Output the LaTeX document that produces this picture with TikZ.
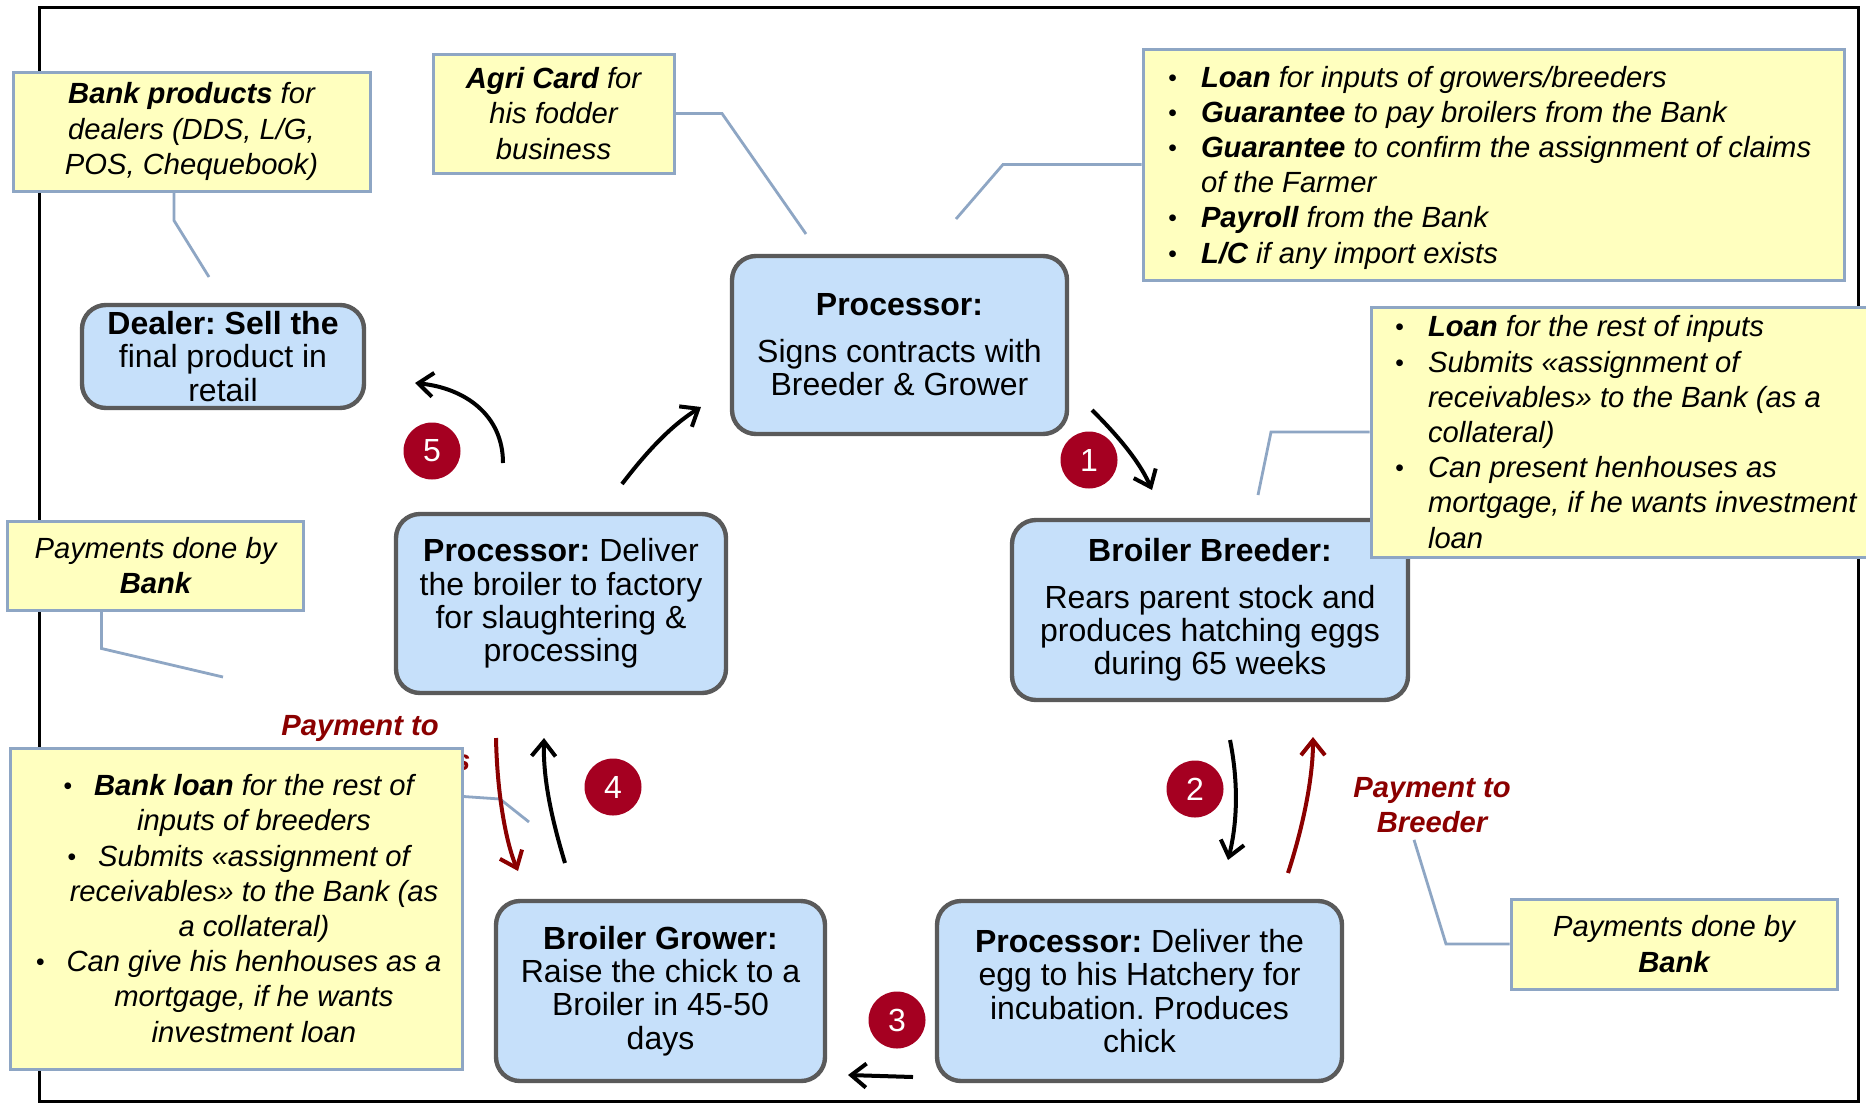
\documentclass[tikz,border=0pt]{standalone}
\usepackage{fontspec}
\setmainfont{Liberation Sans}
\usetikzlibrary{arrows.meta}
\frenchspacing
\definecolor{bluefill}{HTML}{C6E0FA}
\definecolor{blueedge}{HTML}{5A5A5A}
\definecolor{yelfill}{HTML}{FFFFBF}
\definecolor{yeledge}{HTML}{8EA6C4}
\definecolor{circred}{HTML}{A50021}
\definecolor{payred}{HTML}{8B0000}
\newcommand\bigfont{\fontsize{16}{16.7}\selectfont}
\newcommand\smallfont{\fontsize{14.6}{17.6}\selectfont}
\newcommand\bi[1]{\textbf{\textit{#1}}}
\newcommand\bulglyph{\raisebox{0.5pt}{\scalebox{0.85}{\textbullet}}}
\newcommand\bitem[1]{\par\hangindent=16.5pt\hangafter=1\noindent\makebox[16.5pt][l]{\bulglyph}#1}
\newcommand\cbul{\leavevmode\llap{\bulglyph\hspace{11pt}}}
\tikzset{
  bluebox/.style={draw=blueedge, line width=2.2pt, fill=bluefill, rounded corners=12pt, inner sep=0pt, align=center, font=\bigfont},
  ybox/.style={draw=yeledge, line width=1.5pt, fill=yelfill, inner sep=0pt, font=\smallfont\itshape},
  call/.style={draw=yeledge, line width=1.4pt},
  flow/.style={line width=2pt, -{Straight Barb[length=7.5pt,width=12pt,line width=2pt]}},
  payflow/.style={flow, draw=payred},
  num/.style={circle, fill=circred, text=white, minimum size=28.5pt, inner sep=0pt, font=\fontsize{16}{16}\selectfont},
  paylbl/.style={text=payred, font=\smallfont\bfseries\itshape, align=center},
}
\begin{document}
\begin{tikzpicture}[x=0.5pt,y=-0.5pt]
\fill[white] (0,0) rectangle (1866,1103);
\useasboundingbox (0,0) rectangle (1866,1103);
\draw[line width=1.5pt] (39,7) rectangle (1858,1101);

% red label partly hidden behind box F
\node[paylbl] (PG) at (360,743) {Payment to\\Broiler Growers};

% blue process boxes
\node[bluebox, minimum width=167.5pt, minimum height=89pt] (P1) at (899.5,345)
  {\textbf{Processor:}\\[6.5pt]Signs contracts with\\Breeder \& Grower};
\node[bluebox, minimum width=141pt, minimum height=51.5pt] (DL) at (223,356.5)
  {\textbf{Dealer: Sell the}\\final product in\\retail};
\node[bluebox, minimum width=198pt, minimum height=90pt] (BB) at (1210,610)
  {\textbf{Broiler Breeder:}\\[6.5pt]Rears parent stock and\\produces hatching eggs\\during 65 weeks};
\node[bluebox, minimum width=165pt, minimum height=89.5pt] (P2) at (561,603.5)
  {\textbf{Processor:} Deliver\\the broiler to factory\\for slaughtering \&\\processing};
\node[bluebox, minimum width=164.5pt, minimum height=90pt] (BG) at (660.5,991)
  {\textbf{Broiler Grower:}\\Raise the chick to a\\Broiler in 45-50\\days};
\node[bluebox, minimum width=202.5pt, minimum height=90pt] (P3) at (1139.5,991)
  {\textbf{Processor:} Deliver the\\egg to his Hatchery for\\incubation. Produces\\chick};

% yellow bank boxes
\node[ybox, align=center, minimum width=178.5pt, minimum height=59.5pt] (A) at (191.5,131.5)
  {\bi{Bank products} for\\dealers (DDS, L/G,\\POS, Chequebook)};
\node[ybox, align=center, minimum width=120.5pt, minimum height=59.5pt] (B) at (553.5,113.5)
  {\bi{Agri Card} for\\his fodder\\business};
\node[ybox, minimum width=350.5pt, minimum height=115.5pt] (C) at (1493.5,164.5)
  {\hspace*{12.5pt}\parbox{338pt}{\smallfont\itshape
  \bitem{\bi{Loan} for inputs of growers/breeders}
  \bitem{\bi{Guarantee} to pay broilers from the Bank}
  \bitem{\bi{Guarantee} to confirm the assignment of claims\newline of the Farmer}
  \bitem{\bi{Payroll} from the Bank}
  \bitem{\bi{L/C} if any import exists}\vspace*{-3pt}}};
\node[ybox, minimum width=252pt, minimum height=125pt] (D) at (1623,432)
  {\hspace*{12pt}\parbox{240pt}{\smallfont\itshape
  \bitem{\bi{Loan} for the rest of inputs}
  \bitem{Submits «assignment of\newline receivables» to the Bank (as a\newline collateral)}
  \bitem{Can present henhouses as\newline mortgage, if he wants investment\newline loan}}};
\node[ybox, align=center, minimum width=148pt, minimum height=44.5pt] (E) at (155.5,565.5)
  {Payments done by\\\bi{Bank}};
\node[ybox, minimum width=226pt, minimum height=160.5pt] (F) at (236,908.5)
  {\hspace*{18pt}\parbox{208pt}{\smallfont\itshape\centering
  \cbul\bi{Bank loan} for the rest of\\
  inputs of breeders\\
  \cbul Submits «assignment of\\
  receivables» to the Bank (as\\
  a collateral)\\
  \cbul Can give his henhouses as a\\
  mortgage, if he wants\\
  investment loan}};
\node[ybox, align=center, minimum width=163pt, minimum height=45pt] (G) at (1674,944)
  {Payments done by\\\bi{Bank}};

\node[paylbl] (PB) at (1432,805) {Payment to\\Breeder};

% callout lines
\coordinate (cA) at (209,277);
\coordinate (cB) at (806,234);
\coordinate (cC) at (956,219);
\coordinate (cD) at (1258,495);
\coordinate (cE) at (223,677);
\coordinate (cF) at (529,822);
\draw[call] ([xshift=-8.75pt]A.south) -- ++(0,28) -- (cA);
\draw[call] (B.east) -- (722,113.5) -- (cB);
\draw[call] (C.west) -- (1003,164.5) -- (cC);
\draw[call] (D.west) -- (1271,432) -- (cD);
\draw[call] ([xshift=-27pt]E.south) -- ++(0,37) -- (cE);
\draw[call] ([yshift=-25pt]F.north east) -- (500,799) -- (cF);
\draw[call] ([xshift=-9pt]PB.south) -- (1446,944) -- (G.west);

% flow arrows
\coordinate (f1s) at (1092,410); \coordinate (f1e) at (1152,490);
\coordinate (f2s) at (1230,740); \coordinate (f2e) at (1228,860);
\coordinate (r2s) at (1288,873); \coordinate (r2e) at (1313,737);
\coordinate (f3s) at (913,1077); \coordinate (f3e) at (848,1075);
\coordinate (f4s) at (565,863);  \coordinate (f4e) at (544,738);
\coordinate (r4s) at (496,738);  \coordinate (r4e) at (518,871);
\coordinate (f5s) at (503,463);  \coordinate (f5e) at (415,383);
\coordinate (f6s) at (622,484);  \coordinate (f6e) at (701,407);
\draw[flow] (f1s) .. controls (1112,430) and (1138,458) .. (f1e);
\draw[flow] (f2s) .. controls (1238,780) and (1238,820) .. (f2e);
\draw[payflow] (r2s) .. controls (1302,830) and (1313,780) .. (r2e);
\draw[flow] (f3s) -- (f3e);
\draw[flow] (f4s) .. controls (552,820) and (543,780) .. (f4e);
\draw[payflow] (r4s) .. controls (497,790) and (505,840) .. (r4e);
\draw[flow] (f5s) .. controls (503,415) and (465,388) .. (f5e);
\draw[flow] (f6s) .. controls (648,450) and (672,425) .. (f6e);

% step numbers
\node[num] (n1) at (1089,460) {1};
\node[num] (n2) at (1195,789) {2};
\node[num] (n3) at (897,1020) {3};
\node[num] (n4) at (613,787) {4};
\node[num] (n5) at (432,451) {5};
\end{tikzpicture}
\end{document}
